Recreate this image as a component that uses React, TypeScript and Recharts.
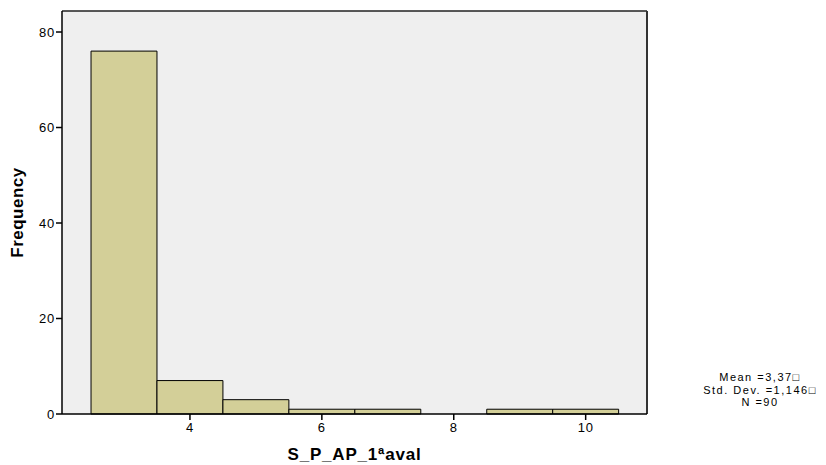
import { ComposedChart, CartesianGrid, XAxis, YAxis, ReferenceArea, ReferenceLine, Scatter } from 'recharts'

// histogram bins (lower edge, width 1) and their counts
const binStarts = [2.5, 3.5, 4.5, 5.5, 6.5, 7.5, 8.5, 9.5]
const counts = [76, 7, 3, 1, 1, 0, 1, 1]
const binWidth = 1

const xTicks = [4, 6, 8, 10]
const yTicks = [0, 20, 40, 60, 80]
const xDomain: [number, number] = [2.06, 10.93]
const yDomain: [number, number] = [0, 84.4]

const statLines = ['Mean =3,37\u25A1', 'Std. Dev. =1,146\u25A1', 'N =90']

const font = 'Arial, "Liberation Sans", Helvetica, sans-serif'
const barFill = '#d3cf98'

const bins = binStarts.map((lo, i) => ({
  lo,
  hi: lo + binWidth,
  mid: lo + binWidth / 2,
  count: counts[i]
}))

const tickStyle = { fill: '#000', fontSize: 13, fontFamily: font, letterSpacing: 0.8 }

export default function App() {
  return (
    <div style={{ position: 'absolute', left: 0, top: 0, width: 826, height: 465, background: '#fff' }}>
      <ComposedChart
        width={826}
        height={465}
        data={bins}
        margin={{ top: 11, right: 179, bottom: 0, left: 0 }}
        style={{ fontFamily: font }}
      >
        <CartesianGrid horizontal={false} vertical={false} fill="#efefef" />
        <XAxis
          type="number"
          dataKey="mid"
          domain={xDomain}
          ticks={xTicks}
          allowDataOverflow
          height={51}
          tickSize={6}
          tickMargin={3}
          axisLine={{ stroke: '#000', strokeWidth: 1.5 }}
          tickLine={{ stroke: '#000', strokeWidth: 1.5 }}
          tick={tickStyle}
          label={{
            value: 'S_P_AP_1ªaval',
            position: 'insideBottom',
            offset: 5,
            style: { fill: '#000', fontSize: 17, fontWeight: 'bold', fontFamily: font, letterSpacing: 0.8 }
          }}
        />
        <YAxis
          type="number"
          domain={yDomain}
          ticks={yTicks}
          allowDataOverflow
          width={62}
          tickSize={6}
          tickMargin={1}
          axisLine={{ stroke: '#000', strokeWidth: 1.5 }}
          tickLine={{ stroke: '#000', strokeWidth: 1.5 }}
          tick={tickStyle}
          label={{
            value: 'Frequency',
            angle: -90,
            position: 'insideLeft',
            offset: 17,
            style: {
              fill: '#000',
              fontSize: 17,
              fontWeight: 'bold',
              fontFamily: font,
              textAnchor: 'middle',
              letterSpacing: 0.5
            }
          }}
        />
        {bins
          .filter((b) => b.count > 0)
          .map((b) => (
            <ReferenceArea
              key={b.lo}
              x1={b.lo}
              x2={b.hi}
              y1={0}
              y2={b.count}
              fill={barFill}
              fillOpacity={1}
              stroke="#000"
              strokeWidth={1}
              strokeOpacity={1}
            />
          ))}
        <ReferenceLine y={yDomain[1]} stroke="#222" strokeWidth={1.5} />
        <ReferenceLine x={xDomain[1]} stroke="#333" strokeWidth={2} />
        <Scatter dataKey="count" fill="none" shape={() => null} isAnimationActive={false} />
      </ComposedChart>
      <div
        style={{
          position: 'absolute',
          left: 692,
          top: 371,
          width: 136,
          textAlign: 'center',
          fontFamily: font,
          fontSize: 11,
          letterSpacing: 1.5,
          lineHeight: '12.5px',
          color: '#000'
        }}
      >
        {statLines.map((s) => (
          <div key={s}>{s}</div>
        ))}
      </div>
    </div>
  )
}
